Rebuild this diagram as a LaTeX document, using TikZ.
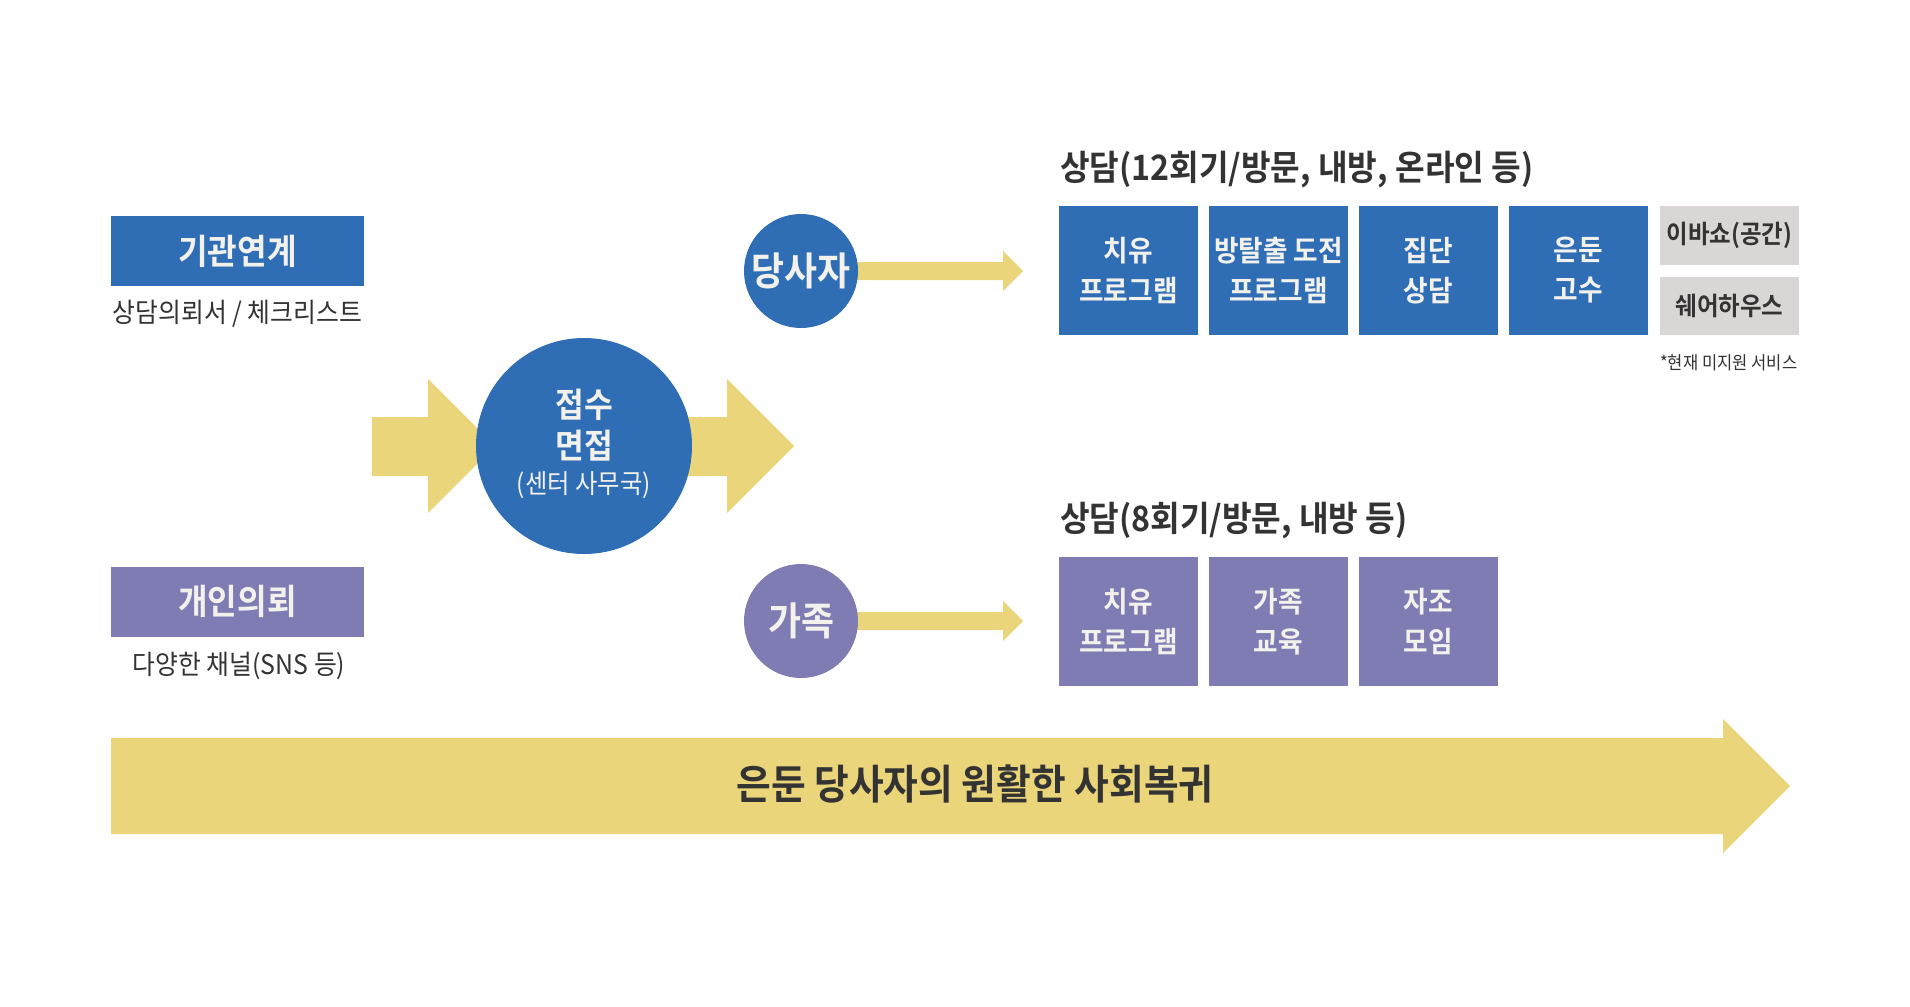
\documentclass[tikz,border=0pt]{standalone}
\usepackage{fontspec}
\usetikzlibrary{calc}
\setmainfont{Noto Sans CJK KR}[BoldFont={Noto Sans CJK KR Bold},FakeStretch=0.92]
\definecolor{cblue}{HTML}{2F6EB5}
\definecolor{cpurple}{HTML}{7E7CB2}
\definecolor{cyellow}{HTML}{EAD57B}
\definecolor{cgray}{HTML}{D9D6D5}
\definecolor{cdark}{HTML}{333333}
\definecolor{cwhite}{HTML}{F3F1EC}
\tikzset{
  srcbox/.style={rectangle, minimum width=253pt, minimum height=70pt, inner sep=0pt, text=cwhite, font=\bfseries\fontsize{35}{40}\selectfont},
  subtxt/.style={inner sep=0pt, text=cdark, font=\fontsize{27}{30}\selectfont},
  svcbox/.style={rectangle, minimum width=139pt, minimum height=129pt, inner sep=0pt, align=center, text=cwhite, font=\bfseries\fontsize{29}{40}\selectfont},
  graybox/.style={rectangle, fill=cgray, minimum width=139pt, inner sep=0pt, text=cdark, font=\bfseries\fontsize{25.5}{30}\selectfont},
  ttl/.style={anchor=west, inner sep=0pt, text=cdark, font=\bfseries\fontsize{35}{40}\selectfont},
  who/.style={circle, minimum size=114pt, inner sep=0pt, text=cwhite, font=\bfseries\fontsize{39}{40}\selectfont},
  intxt/.style={inner sep=0pt, text=cwhite, font=\bfseries\fontsize{34}{40}\selectfont},
}
\begin{document}
\begin{tikzpicture}[x=1pt,y=-1pt]
\useasboundingbox[fill=white] (0,0) rectangle (1910,1006);

% big arrows around the intake circle
\coordinate (la) at (372,446);
\coordinate (ra) at (794,446);
\fill[cyellow] (la) ++(0,-29) -- (428,417) -- (428,379) -- (495,446) -- (428,513) -- (428,476) -- (372,476) -- cycle;
\fill[cyellow] (600,417) -- (727,417) -- (727,379) -- (ra) -- (727,513) -- (727,476) -- (600,476) -- cycle;

% intake circle
\node[circle, fill=cblue, minimum size=216pt, inner sep=0pt] (intake) at (584,446) {};
\node[intxt] (in1) at (584,405) {접수};
\node[intxt] (in2) at (584,446) {면접};
\node[inner sep=0pt, text=cwhite, font=\fontsize{26.5}{30}\selectfont] (in3) at (584,485) {(센터 사무국)};

% source boxes
\node[srcbox, fill=cblue] (org) at (237.5,251) {기관연계};
\node[subtxt] (orgsub) at (237.5,314) {상담의뢰서 / 체크리스트};
\node[srcbox, fill=cpurple] (ind) at (237.5,601.5) {개인의뢰};
\node[subtxt] (indsub) at (239,666) {다양한 채널(SNS 등)};

% small arrows
\coordinate (selfc) at (801,271);
\coordinate (famc) at (801,621);
\coordinate (selfend) at (1023,271);
\coordinate (famend) at (1023,621);
\fill[cyellow] ($(selfc)+(0,-9)$) -- (1003,262) -- (1003,251) -- (selfend) -- (1003,291) -- (1003,280) -- ($(selfc)+(0,9)$) -- cycle;
\fill[cyellow] ($(famc)+(0,-9)$) -- (1003,612) -- (1003,601) -- (famend) -- (1003,641) -- (1003,630) -- ($(famc)+(0,9)$) -- cycle;

% target circles
\node[who, fill=cblue] (self) at (selfc) {당사자};
\node[who, fill=cpurple] (fam) at (famc) {가족};

% top service row
\node[ttl] (t1) at (1060,170) {상담(12회기/방문, 내방, 온라인 등)};
\node[svcbox, fill=cblue] (s1) at (1128.5,270.5) {치유\\프로그램};
\node[svcbox, fill=cblue] (s2) at (1278.5,270.5) {방탈출 도전\\프로그램};
\node[svcbox, fill=cblue] (s3) at (1428.5,270.5) {집단\\상담};
\node[svcbox, fill=cblue] (s4) at (1578.5,270.5) {은둔\\고수};
\node[graybox, minimum height=59pt] (g1) at (1729.5,235.5) {이바쇼(공간)};
\node[graybox, minimum height=58pt] (g2) at (1729.5,306) {쉐어하우스};
\node[anchor=west, inner sep=0pt, text=cdark, font=\fontsize{18}{22}\selectfont] (note) at (1660,363) {*현재 미지원 서비스};

% bottom service row
\node[ttl] (t2) at (1060,521) {상담(8회기/방문, 내방 등)};
\node[svcbox, fill=cpurple] (f1) at (1128.5,621.5) {치유\\프로그램};
\node[svcbox, fill=cpurple] (f2) at (1278.5,621.5) {가족\\교육};
\node[svcbox, fill=cpurple] (f3) at (1428.5,621.5) {자조\\모임};

% bottom long arrow
\fill[cyellow] (111,738) -- (1723,738) -- (1723,719) -- (1790,786) -- (1723,853) -- (1723,834) -- (111,834) -- cycle;
\node[inner sep=0pt, text=cdark, font=\bfseries\fontsize{41}{46}\selectfont] (goal) at (975,784) {은둔 당사자의 원활한 사회복귀};
\end{tikzpicture}
\end{document}
